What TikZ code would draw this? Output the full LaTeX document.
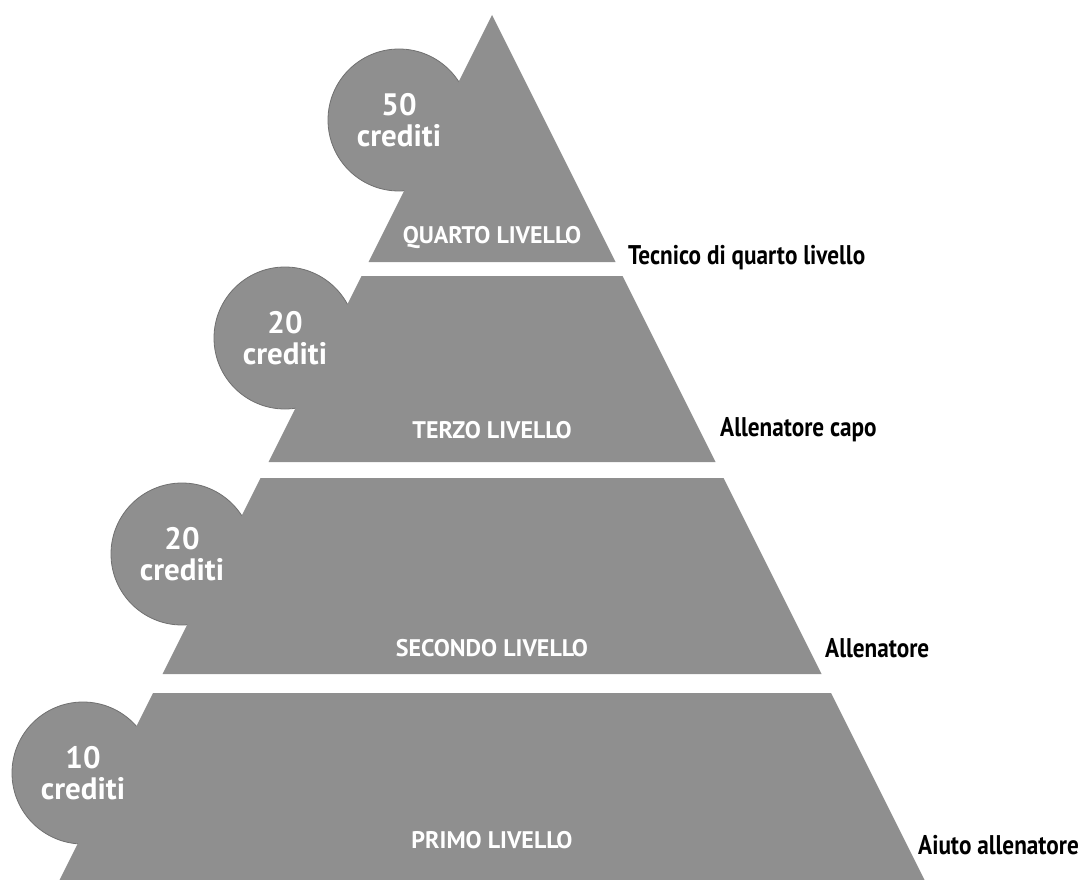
\documentclass[tikz,border=0pt]{standalone}
\usepackage{fontspec}
\newfontfamily\labelfont{PT Sans}
\newfontfamily\rolefont[FakeStretch=0.86]{PT Sans}
\usepackage{xcolor}
\usepackage{tikz}
\usetikzlibrary{positioning}

\definecolor{pyrgray}{RGB}{143,143,143}
\definecolor{edgegray}{RGB}{112,112,112}

\tikzset{
  credit/.style={circle, fill=pyrgray, draw=edgegray, line width=0.8pt, minimum size=142pt, inner sep=0pt},
  credittext/.style={align=center, text=white, inner sep=0pt, font=\labelfont\bfseries\fontsize{31}{31}\selectfont},
  level/.style={text=white, inner sep=0pt, font=\labelfont\bfseries\fontsize{24}{24}\selectfont},
  role/.style={anchor=west, inner sep=0pt, text=black, font=\rolefont\bfseries\fontsize{27}{27}\selectfont}
}

\begin{document}
\begin{tikzpicture}[x=1pt,y=-1pt]
\useasboundingbox (0,0) rectangle (1082,880);

% Draw the credit circles
\node[credit] (c4) at (399,120) {};
\node[credit] (c3) at (285,338) {};
\node[credit] (c2) at (182,554) {};
\node[credit] (c1) at (83,773) {};

% Draw the four bands of the pyramid
\foreach \t/\b in {15/262, 276/462, 478/674, 693/884}
{
    \fill[pyrgray] ({492-0.5*(\t-15)},\t) -- ({492+0.5*(\t-15)},\t)
        -- ({492+0.5*(\b-15)},\b) -- ({492-0.5*(\b-15)},\b) -- cycle;
}

% Credits
\node[credittext] (t4) at (c4) {50\\crediti};
\node[credittext] (t3) at (c3) {20\\crediti};
\node[credittext] (t2) at (c2) {20\\crediti};
\node[credittext] (t1) at (c1) {10\\crediti};

% Level names
\node[level] (l4) at (492,238) {QUARTO LIVELLO};
\node[level] (l3) at (492,430) {TERZO LIVELLO};
\node[level] (l2) at (492,648) {SECONDO LIVELLO};
\node[level] (l1) at (492,840) {PRIMO LIVELLO};

% Roles on the right
\node[role] (r4) at (628,258) {Tecnico di quarto livello};
\node[role] (r3) at (720,430) {Allenatore capo};
\node[role] (r2) at (825,648) {Allenatore};
\node[role] (r1) at (918,845) {Aiuto allenatore};
\end{tikzpicture}
\end{document}
